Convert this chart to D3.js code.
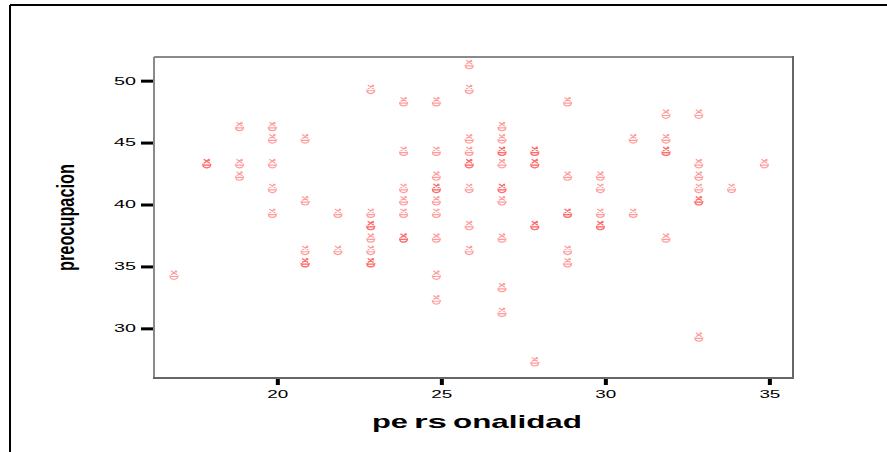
<!DOCTYPE html>
<html>
<head>
<meta charset="utf-8">
<script src="https://cdn.jsdelivr.net/npm/d3@7"></script>
<style>
  html, body { margin: 0; padding: 0; background: #fff; }
  svg { display: block; }
</style>
</head>
<body>
<svg id="chart" width="887" height="452"></svg>
<script>
// ---- data ----
const personalidad = [
  17,
  18,18,
  19,19,19,
  20,20,20,20,20,
  21,21,21,21,21,
  22,22,
  23,23,23,23,23,23,23,23,
  24,24,24,24,24,24,24,
  25,25,25,25,25,25,25,25,25,25,
  26,26,26,26,26,26,26,26,26,
  27,27,27,27,27,27,27,27,27,27,27,
  28,28,28,28,28,28,28,
  29,29,29,29,29,29,
  30,30,30,30,30,
  31,31,
  32,32,32,32,32,
  33,33,33,33,33,33,33,
  34,
  35
];
const preocupacion = [
  34,
  43,43,
  46,43,42,
  46,45,43,41,39,
  45,40,36,35,35,
  39,36,
  49,39,38,38,37,36,35,35,
  48,44,41,40,39,37,37,
  48,44,42,41,41,40,39,37,34,32,
  51,49,45,44,43,43,41,38,36,
  46,45,44,44,43,41,41,40,37,33,31,
  44,44,43,43,38,38,27,
  48,42,39,39,36,35,
  42,41,39,38,38,
  45,39,
  47,45,44,44,37,
  47,43,42,41,40,40,29,
  41,
  43
];
const xTicks = [20, 25, 30, 35];
const yTicks = [30, 35, 40, 45, 50];
const xTitle = ["pe", "rs", "onalidad"];
const yTitle = "preocupacion";

const svg = d3.select("#chart");

// outer frame (only top and left visible)
svg.append("line").attr("x1", 10).attr("x2", 887).attr("y1", 5).attr("y2", 5)
  .attr("stroke", "#000").attr("stroke-width", 2);
svg.append("line").attr("x1", 10).attr("x2", 10).attr("y1", 5).attr("y2", 452)
  .attr("stroke", "#000").attr("stroke-width", 2);

const plot = { left: 154, right: 793, top: 57, bottom: 378 };

const x = d3.scaleLinear().domain([16.24, 35.72]).range([plot.left, plot.right]);
const y = d3.scaleLinear().domain([25.99, 51.91]).range([plot.bottom, plot.top]);

// axes
const yAxis = svg.append("g")
  .attr("transform", `translate(${plot.left - 1},0)`)
  .call(d3.axisLeft(y).tickValues(yTicks).tickSize(12).tickPadding(5).tickSizeOuter(0));
yAxis.select(".domain").remove();
yAxis.selectAll(".tick line").attr("stroke", "#000").attr("stroke-width", 3);
yAxis.selectAll(".tick text")
  .attr("font-family", "Liberation Sans, Arial, sans-serif")
  .attr("font-size", 10.5)
  .attr("fill", "#000")
  .attr("textLength", 22)
  .attr("lengthAdjust", "spacingAndGlyphs");

const xAxis = svg.append("g")
  .attr("transform", `translate(0,${plot.bottom + 1})`)
  .call(d3.axisBottom(x).tickValues(xTicks).tickSize(6).tickPadding(6).tickSizeOuter(0));
xAxis.select(".domain").remove();
xAxis.selectAll(".tick line").attr("stroke", "#000").attr("stroke-width", 4);
xAxis.selectAll(".tick text")
  .attr("font-family", "Liberation Sans, Arial, sans-serif")
  .attr("font-size", 10.5)
  .attr("fill", "#000")
  .attr("textLength", 21)
  .attr("lengthAdjust", "spacingAndGlyphs");

// plot frame
svg.append("line").attr("x1", plot.left).attr("x2", plot.right).attr("y1", plot.top).attr("y2", plot.top)
  .attr("stroke", "#8a8a8a").attr("stroke-width", 2);
svg.append("line").attr("x1", plot.left).attr("x2", plot.left).attr("y1", plot.top).attr("y2", plot.bottom)
  .attr("stroke", "#8a8a8a").attr("stroke-width", 2);
svg.append("line").attr("x1", plot.right).attr("x2", plot.right).attr("y1", plot.top - 1).attr("y2", plot.bottom + 1)
  .attr("stroke", "#666").attr("stroke-width", 2);
svg.append("line").attr("x1", plot.left - 1).attr("x2", plot.right + 1).attr("y1", plot.bottom).attr("y2", plot.bottom)
  .attr("stroke", "#666").attr("stroke-width", 2);

// marker glyph (drawn slightly up-left of the point, as in the reference)
const glyph = "M-3,-4.5 L3,-0.5 M3,-4.5 L-3,-0.5 M-4,0 Q-4,4 0,4 Q4,4 4,0 M-4,1.2 L4,1.2 M1,-4.5 L3,-3";
const pts = personalidad.map((p, i) => ({ p, v: preocupacion[i] }));
svg.append("g").selectAll("path")
  .data(pts).join("path")
  .attr("transform", d => `translate(${x(d.p) - 5},${y(d.v) - 3.5})`)
  .attr("d", glyph)
  .attr("fill", "none")
  .attr("stroke", "#ff3b3b")
  .attr("stroke-opacity", 0.5)
  .attr("stroke-width", 1.2);

// axis titles
const xt = svg.append("text")
  .attr("font-family", "Liberation Sans, Arial, sans-serif")
  .attr("font-weight", "bold")
  .attr("font-size", 19)
  .attr("fill", "#000")
  .attr("y", 428);
const segs = [[372, 36], [414, 33], [453, 129]];
xTitle.forEach((s, i) => {
  xt.append("tspan").attr("x", segs[i][0]).attr("textLength", segs[i][1])
    .attr("lengthAdjust", "spacingAndGlyphs").text(s);
});

svg.append("text")
  .attr("transform", "translate(74,271) rotate(-90)")
  .attr("font-family", "Liberation Sans, Arial, sans-serif")
  .attr("font-weight", "bold")
  .attr("font-size", 23)
  .attr("fill", "#000")
  .attr("textLength", 107)
  .attr("lengthAdjust", "spacingAndGlyphs")
  .text(yTitle);
</script>
</body>
</html>
